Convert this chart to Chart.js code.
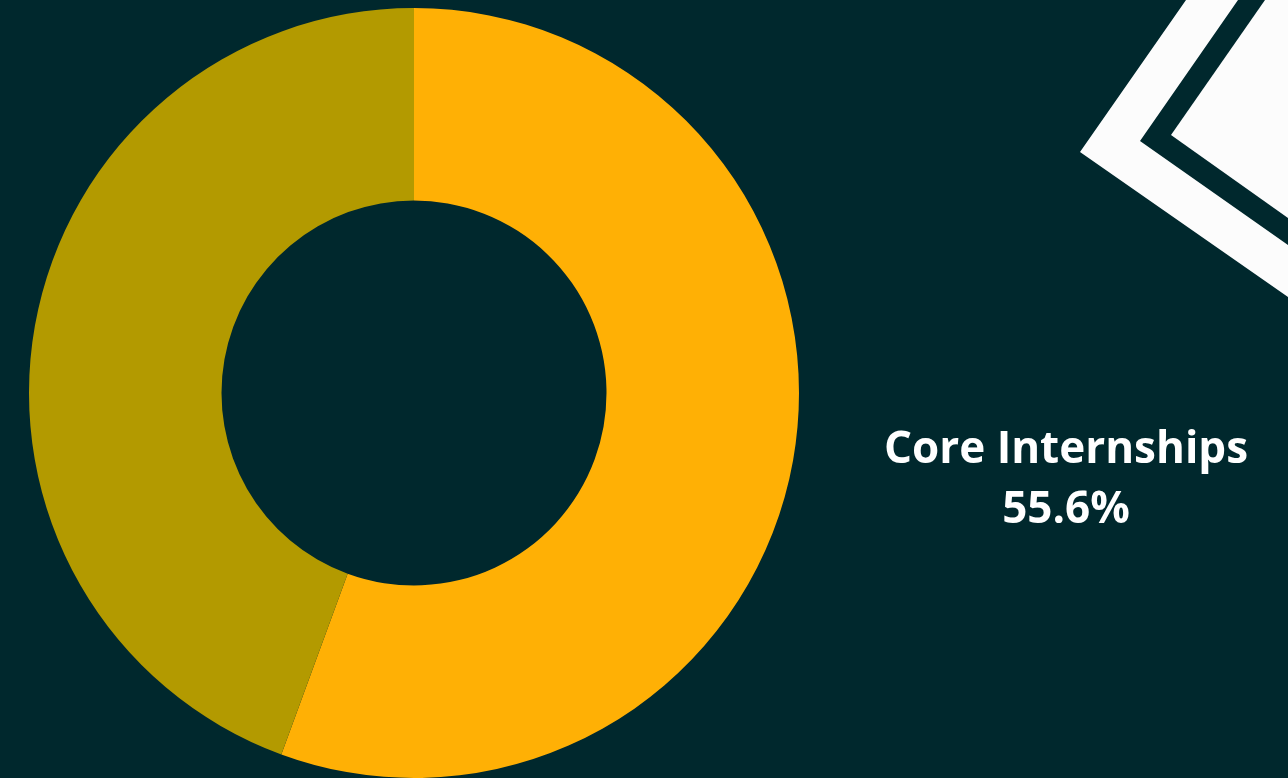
<!DOCTYPE html>
<html>
<head>
<meta charset="utf-8">
<script src="https://cdn.jsdelivr.net/npm/chart.js@4.4.0/dist/chart.umd.min.js"></script>
<style>
    html, body { margin: 0; padding: 0; background: #00282D; }
    #wrap { position: relative; width: 1288px; height: 778px; }
</style>
</head>
<body>
<div id="wrap"><canvas id="chart"></canvas></div>
<script>
// Chart data
const labels = ['Core Internships', 'Other Internships'];
const values = [55.6, 44.4];
const colors = ['#FFB005', '#B39A00'];

// Draws the white chevrons in the top right corner
const chevronPlugin = {
    id: 'chevrons',
    beforeDraw(chart) {
        const ctx = chart.ctx;
        ctx.save();
        ctx.fillStyle = '#FCFCFC';
        // outer band
        ctx.beginPath();
        ctx.moveTo(1186, 0);
        ctx.lineTo(1238, 0);
        ctx.lineTo(1140, 141);
        ctx.lineTo(1288, 245);
        ctx.lineTo(1288, 297);
        ctx.lineTo(1080, 152);
        ctx.closePath();
        ctx.fill();
        // inner filled chevron
        ctx.beginPath();
        ctx.moveTo(1265, 0);
        ctx.lineTo(1288, 0);
        ctx.lineTo(1288, 218);
        ctx.lineTo(1171, 135);
        ctx.closePath();
        ctx.fill();
        ctx.restore();
    }
};

// Label of the first slice shown to the right of the ring
const sideLabelPlugin = {
    id: 'sideLabel',
    afterDraw(chart) {
        const ctx = chart.ctx;
        const data = chart.data.datasets[0].data;
        const total = data.reduce((a, b) => a + b, 0);
        const pct = (data[0] / total * 100).toFixed(1) + '%';
        ctx.save();
        ctx.fillStyle = '#FFFFFF';
        ctx.font = 'bold 44px "Open Sans"';
        ctx.textAlign = 'center';
        ctx.textBaseline = 'alphabetic';
        ctx.fillText(chart.data.labels[0], 1066, 463);
        ctx.fillText(pct, 1066, 523);
        ctx.restore();
    }
};

new Chart(document.getElementById('chart'), {
    type: 'doughnut',
    data: {
        labels: labels,
        datasets: [{
            data: values,
            backgroundColor: colors,
            borderWidth: 0
        }]
    },
    options: {
        responsive: true,
        maintainAspectRatio: false,
        animation: false,
        cutout: '50%',
        layout: {
            padding: { left: 29, top: 8, right: 489, bottom: 0 }
        },
        plugins: {
            legend: { display: false },
            tooltip: { enabled: false }
        }
    },
    plugins: [chevronPlugin, sideLabelPlugin]
});
</script>
</body>
</html>
